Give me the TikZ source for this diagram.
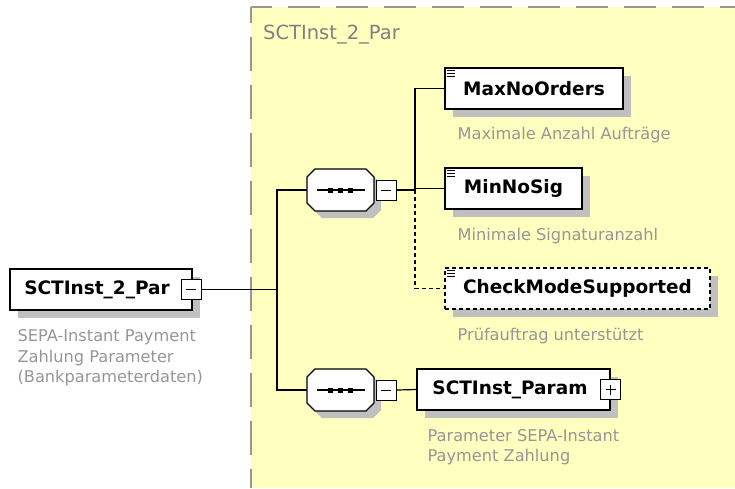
\documentclass[tikz,border=0pt]{standalone}
\usepackage{fontspec}
\setmainfont{DejaVu Sans}
\usetikzlibrary{positioning,shadows}
\definecolor{groupbg}{RGB}{255,255,192}
\definecolor{groupline}{RGB}{150,150,150}
\definecolor{descgray}{RGB}{150,150,150}
\definecolor{titlegray}{RGB}{128,128,128}
\definecolor{shadowgray}{RGB}{192,192,192}

\begin{document}
\begin{tikzpicture}[x=1pt, y=-1pt,
    elem/.style={draw, fill=white, line width=1.2pt, minimum height=41pt,
      inner sep=0pt, font=\bfseries\fontsize{18.5}{20}\selectfont,
      general shadow={fill=shadowgray, draw=none, shadow xshift=8pt, shadow yshift=-8pt}},
    optelem/.style={elem, dash pattern=on 4pt off 3pt},
    seq/.style={minimum width=67pt, minimum height=42pt, inner sep=0pt},
    tog/.style={draw, fill=white, line width=1pt, minimum size=20pt, inner sep=0pt},
    desc/.style={anchor=base west, inner sep=0pt, align=left, text=descgray,
      font=\fontsize{16.2}{20.5}\selectfont},
    wire/.style={line width=1.2pt}]
  \useasboundingbox (0,0) rectangle (735,488);
  % group background
  \fill[groupbg] (251,7) rectangle (735,488);
  \draw[groupline, line width=1.3pt, dash pattern=on 32pt off 16pt, dash phase=11pt] (251,7) -- (735,7);
  \draw[groupline, line width=1.3pt, dash pattern=on 34pt off 14pt, dash phase=18pt] (251,7) -- (251,488);
  \node[anchor=base west, inner sep=0pt, text=titlegray, font=\fontsize{19.5}{20}\selectfont] (title) at (263,39) {SCTInst\_2\_Par};

  \node[elem, minimum width=182pt] (root) at (101,289.5) {SCTInst\_2\_Par\hspace*{8pt}};
  \node[tog] (rootm) at ([xshift=-1.5pt]root.east) {};
  % base of a multi-line text is its last line
  \node[desc] (rootd) at ([xshift=8pt, yshift=-72pt]root.south west)
    {SEPA-Instant Payment\\Zahlung Parameter\\(Bankparameterdaten)};

  % sequence compositors
  \node[seq] (seq1) at (340.5,190) {};
  \node[seq] (seq2) at (340.5,390) {};
  \foreach \s in {seq1,seq2} {
    \fill[shadowgray] (\s.center) ++(-26.5,-6) -- ++(8,-8) -- ++(51,0) -- ++(8,8)
      -- ++(0,26) -- ++(-8,8) -- ++(-51,0) -- ++(-8,-8) -- cycle;
    \draw[line width=1.2pt, fill=white] (\s.center) ++(-33.5,-13) -- ++(8,-8) -- ++(51,0)
      -- ++(8,8) -- ++(0,26) -- ++(-8,8) -- ++(-51,0) -- ++(-8,-8) -- cycle;
    \draw[line width=1.2pt] ([xshift=-24pt]\s.center) -- ([xshift=24pt]\s.center);
    \foreach \d in {-10,0,10}
      \fill ([xshift=\d pt]\s.center) +(-2.5,-2.5) rectangle +(2.5,2.5);
  }
  \node[tog, anchor=west] (seq1m) at ([xshift=1.5pt]seq1.east) {};
  \node[tog, anchor=west] (seq2m) at ([xshift=1.5pt]seq2.east) {};

  \node[elem, minimum width=178pt] (max) at (534,88.5) {MaxNoOrders};
  \node[desc] (maxd) at ([xshift=13pt, yshift=-30pt]max.south west) {Maximale Anzahl Aufträge};
  \node[elem, minimum width=137pt] (min) at (513.5,188.5) {MinNoSig};
  \node[desc] (mind) at ([xshift=13pt, yshift=-31pt]min.south west) {Minimale Signaturanzahl};
  \node[optelem, minimum width=265pt] (check) at (577.5,288.5) {CheckModeSupported};
  \node[desc] (checkd) at ([xshift=13pt, yshift=-31pt]check.south west) {Prüfauftrag unterstützt};
  \node[elem, minimum width=193pt] (param) at (513.5,389.5) {SCTInst\_Param\hspace*{7pt}};
  \node[tog] (paramp) at (param.east) {};
  \node[desc] (paramd) at ([xshift=11pt, yshift=-51pt]param.south west)
    {Parameter SEPA-Instant\\Payment Zahlung};

  % toggle signs
  \foreach \t in {rootm,seq1m,seq2m,paramp}
    \draw[line width=1pt] ([xshift=-5pt]\t.center) -- ([xshift=5pt]\t.center);
  \draw[line width=1pt] ([yshift=-5pt]paramp.center) -- ([yshift=5pt]paramp.center);

  % document icons
  \foreach \n in {max,min,check}
    \foreach \k in {3.5,6.5,9.5}
      \draw[line width=0.9pt] ([xshift=3pt, yshift=-\k pt]\n.north west) -- ++(8,0);

  % connectors
  \coordinate (trunk) at (277,289.5);
  \coordinate (fork) at (415,190);
  \draw[wire] (rootm.east) -- (trunk);
  \draw[wire] (trunk) |- (seq1.west);
  \draw[wire] (trunk) |- (seq2.west);
  \draw[wire] (seq1m.east) -- (fork);
  \draw[wire] (fork) |- (max.west);
  \draw[wire] (fork) |- (min.west);
  \draw[wire, dash pattern=on 4pt off 3pt] (fork) |- (check.west);
  \draw[wire] (seq2m.east) -- (param.west);
\end{tikzpicture}
\end{document}
